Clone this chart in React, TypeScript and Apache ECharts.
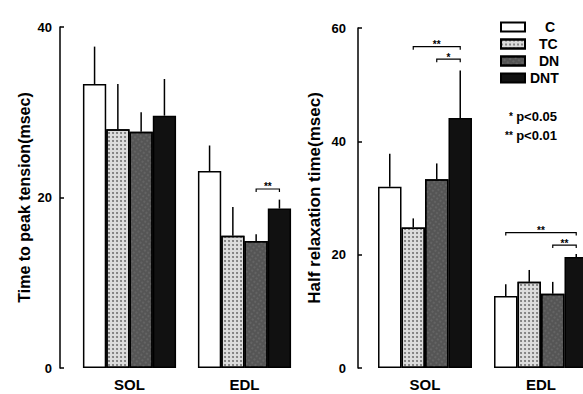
import React, { useEffect, useRef } from 'react';
import * as echarts from 'echarts';

const categories = ['SOL', 'EDL'];
const groups = ['C', 'TC', 'DN', 'DNT'];

// Time to peak tension (msec): mean per group [SOL, EDL]
const tptMean = [
  [33.3, 23.1],
  [28.0, 15.5],
  [27.7, 14.9],
  [29.6, 18.7],
];
const tptSd = [
  [4.4, 3.0],
  [5.3, 3.4],
  [2.3, 0.8],
  [4.3, 1.05],
];
// significance brackets: [category, from group, to group, height]
const tptSig = [[1, 2, 3, 21.0]];
const tptSigLabel = ['**'];

// Half relaxation time (msec)
const hrtMean = [
  [32.0, 12.7],
  [24.8, 15.2],
  [33.3, 13.1],
  [44.1, 19.6],
];
const hrtSd = [
  [5.8, 2.1],
  [1.6, 2.1],
  [2.8, 2.1],
  [8.4, 0.5],
];
const hrtSig = [
  [0, 1, 3, 56.7],
  [0, 2, 3, 54.5],
  [1, 0, 3, 23.9],
  [1, 2, 3, 21.7],
];
const hrtSigLabel = ['**', '*', '**', '**'];

const leftTicks = { min: 0, max: 40, interval: 20 };
const rightTicks = { min: 0, max: 60, interval: 20 };
const pLegend = [
  { star: '*', text: 'p<0.05' },
  { star: '**', text: 'p<0.01' },
];

const GAP = 0.19;
const FONT = '"Liberation Sans", Arial, sans-serif';

const styles = [
  { color: '#ffffff' },
  {
    color: '#dcdcdc',
    decal: { symbol: 'circle', symbolSize: 0.8, color: 'rgba(40,40,40,0.75)', dashArrayX: 2, dashArrayY: 2 },
  },
  {
    color: '#555555',
    decal: { symbol: 'rect', symbolSize: 0.6, color: 'rgba(180,180,180,0.5)', dashArrayX: 2, dashArrayY: 2, rotation: 0.6 },
  },
  { color: '#111111' },
];

function errRender(params: any, api: any) {
  const cat = api.value(0);
  const s = api.value(1);
  const p0 = api.coord([cat, api.value(2)]);
  const p1 = api.coord([cat, api.value(3)]);
  const band = api.size([1, 0])[0];
  const bw = (band * (1 - GAP)) / 4;
  const x = p0[0] + (s - 1.5) * bw;
  return {
    type: 'line',
    shape: { x1: x, y1: p0[1], x2: x, y2: p1[1] },
    style: { stroke: '#000', lineWidth: 1.5 },
  };
}

function sigRender(labels: string[]) {
  return (params: any, api: any) => {
    const cat = api.value(0);
    const a = api.value(1);
    const b = api.value(2);
    const p = api.coord([cat, api.value(3)]);
    const band = api.size([1, 0])[0];
    const bw = (band * (1 - GAP)) / 4;
    const x1 = p[0] + (a - 1.5) * bw;
    const x2 = p[0] + (b - 1.5) * bw;
    const y = p[1];
    return {
      type: 'group',
      children: [
        {
          type: 'polyline',
          shape: { points: [[x1, y + 3], [x1, y], [x2, y], [x2, y + 3]] },
          style: { stroke: '#000', lineWidth: 1.2, fill: null },
        },
        {
          type: 'text',
          x: (x1 + x2) / 2,
          y: y + 3,
          style: {
            text: labels[params.dataIndex],
            fontSize: 10,
            fontWeight: 'bold',
            fontFamily: FONT,
            fill: '#000',
            align: 'center',
            verticalAlign: 'bottom',
          },
        },
      ],
    };
  };
}

function buildSeries(gi: number, mean: number[][], sd: number[][], sig: number[][], sigLabel: string[]) {
  const out: any[] = [];
  groups.forEach((g, i) => {
    out.push({
      type: 'bar',
      name: g,
      xAxisIndex: gi,
      yAxisIndex: gi,
      data: mean[i],
      barGap: '0%',
      barCategoryGap: GAP * 100 + '%',
      itemStyle: { ...styles[i], borderColor: '#000', borderWidth: 1.5 },
    });
  });
  const errData: number[][] = [];
  groups.forEach((g, i) => {
    categories.forEach((c, ci) => {
      errData.push([ci, i, mean[i][ci], mean[i][ci] + sd[i][ci]]);
    });
  });
  out.push({
    type: 'custom',
    xAxisIndex: gi,
    yAxisIndex: gi,
    data: errData,
    encode: { x: 0, y: [2, 3] },
    renderItem: errRender,
    clip: false,
    z: 5,
  });
  out.push({
    type: 'custom',
    xAxisIndex: gi,
    yAxisIndex: gi,
    data: sig,
    encode: { x: 0, y: 3 },
    renderItem: sigRender(sigLabel),
    clip: false,
    z: 5,
  });
  return out;
}

const legendPad = [15, 9, 9, 0];

export default function App() {
  const ref = useRef<HTMLDivElement>(null);
  useEffect(() => {
    if (!ref.current) return;
    const chart = echarts.init(ref.current, undefined, { renderer: 'svg' });
    const xAxisBase = {
      type: 'category',
      data: categories,
      axisLine: { show: false },
      axisTick: { show: false },
      axisLabel: { color: '#000', fontSize: 15, fontWeight: 'bold', margin: 9, fontFamily: FONT },
    };
    const yAxisBase = {
      type: 'value',
      axisLine: { show: true, lineStyle: { color: '#000', width: 1.5 } },
      axisTick: { show: true, inside: true, length: 4, lineStyle: { color: '#000', width: 1.5 } },
      splitLine: { show: false },
      nameLocation: 'middle',
      nameRotate: 90,
    };
    chart.setOption({
      animation: false,
      backgroundColor: '#fff',
      textStyle: { fontFamily: FONT },
      grid: [
        { left: 72, top: 27, width: 230, height: 341 },
        { left: 367, top: 28, width: 232, height: 340 },
      ],
      xAxis: [
        { ...xAxisBase, gridIndex: 0 },
        { ...xAxisBase, gridIndex: 1 },
      ],
      yAxis: [
        {
          ...yAxisBase,
          gridIndex: 0,
          ...leftTicks,
          offset: 12,
          name: 'Time to peak tension(msec)',
          nameGap: 28,
          nameTextStyle: { color: '#000', fontSize: 16, fontWeight: 'bold', fontFamily: FONT },
          axisLabel: { color: '#000', fontSize: 13, fontWeight: 'bold', margin: 8, fontFamily: FONT },
        },
        {
          ...yAxisBase,
          gridIndex: 1,
          ...rightTicks,
          offset: 9,
          name: 'Half relaxation time(msec)',
          nameGap: 35,
          nameTextStyle: { color: '#000', fontSize: 17, fontWeight: 'bold', fontFamily: FONT },
          axisLabel: { color: '#000', fontSize: 13, fontWeight: 'bold', margin: 12, fontFamily: FONT },
        },
      ],
      legend: {
        orient: 'vertical',
        left: 495,
        top: 15,
        icon: 'rect',
        itemWidth: 24,
        itemHeight: 9,
        itemGap: 3,
        itemTextGap: 1,
        textStyle: { color: '#000', fontSize: 14, fontWeight: 'bold', lineHeight: 14, fontFamily: FONT },
        data: groups.map((g, i) => ({ name: g, textStyle: { padding: [0, 0, 0, legendPad[i]] } })),
      },
      graphic: pLegend.map((p, i) => ({
        type: 'text',
        right: 583 + 37 - 557,
        top: 110 + i * 19,
        style: {
          text: '{a|' + p.star + '} {b|' + p.text + '}',
          rich: {
            a: { fontSize: 10, fontWeight: 'bold', fill: '#000', fontFamily: FONT },
            b: { fontSize: 13, fontWeight: 'bold', fill: '#000', fontFamily: FONT },
          },
        },
      })),
      series: [
        ...buildSeries(0, tptMean, tptSd, tptSig, tptSigLabel),
        ...buildSeries(1, hrtMean, hrtSd, hrtSig, hrtSigLabel),
      ],
    });
    return () => chart.dispose();
  }, []);
  return (
    <div style={{ position: 'fixed', left: 0, top: 0, width: 583, height: 394, overflow: 'hidden', background: '#fff' }}>
      <div ref={ref} style={{ width: 620, height: 394 }} />
    </div>
  );
}
